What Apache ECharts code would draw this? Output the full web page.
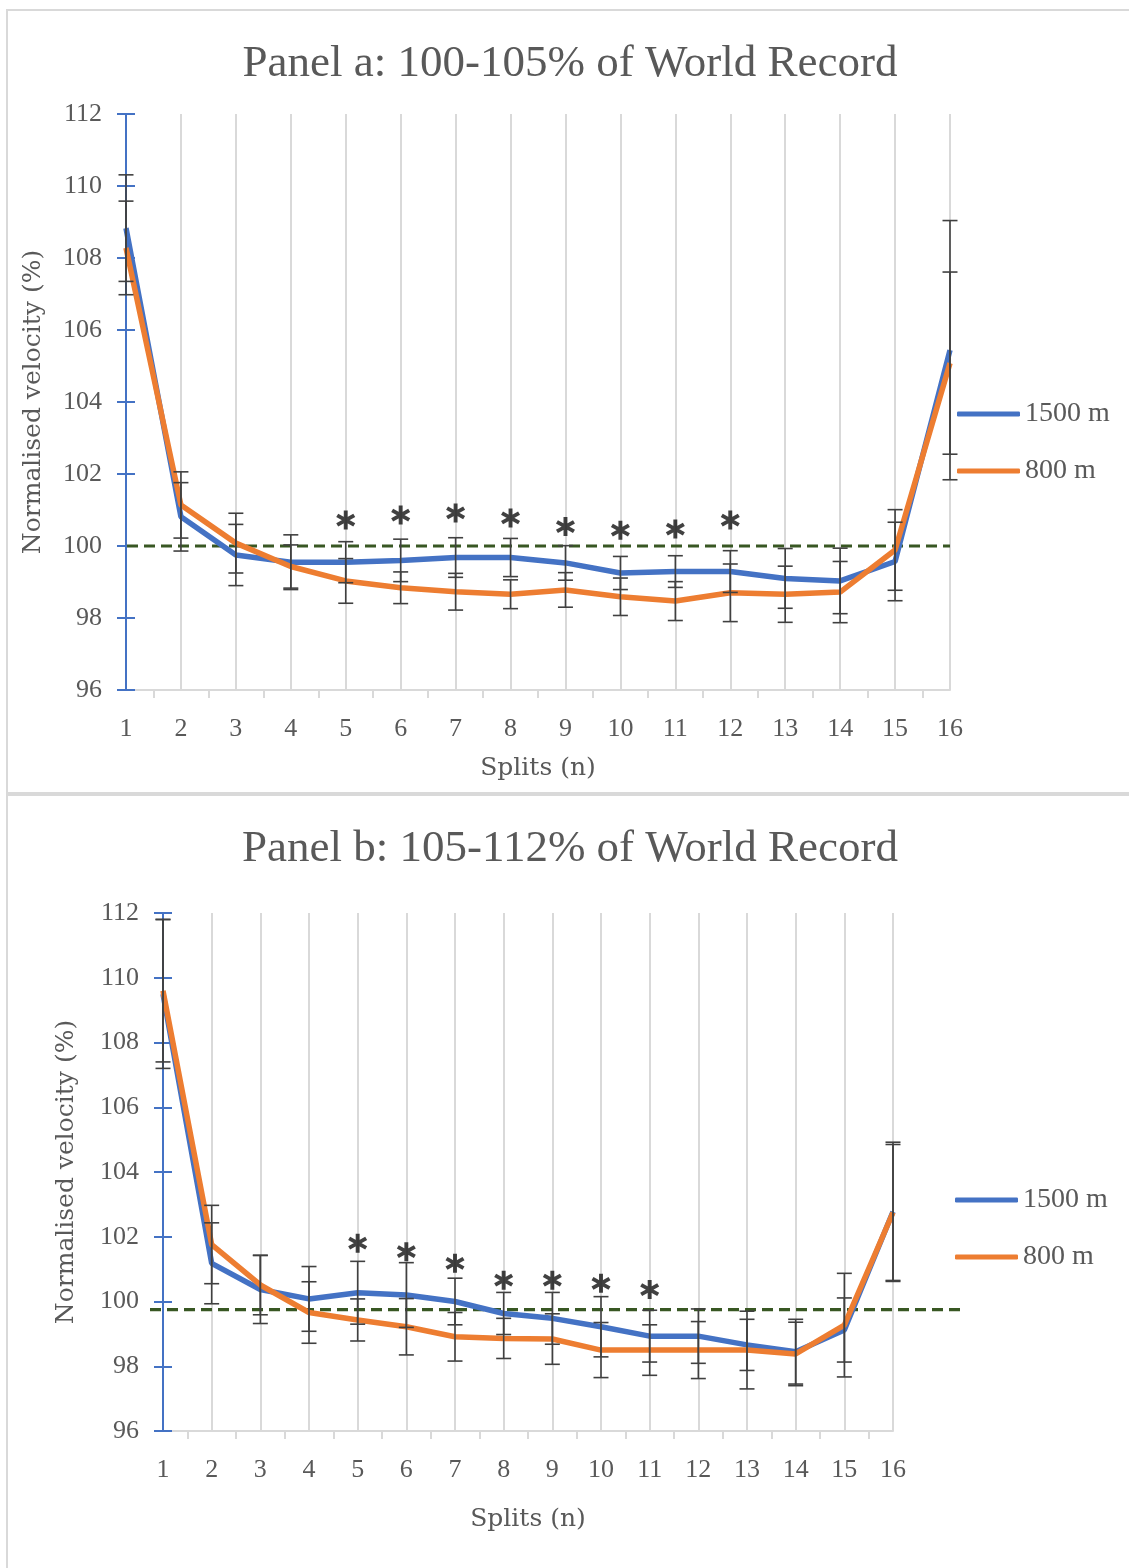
<!DOCTYPE html>
<html>
<head>
<meta charset="utf-8">
<script src="https://cdn.jsdelivr.net/npm/echarts@6/dist/echarts.min.js"></script>
<style>
html,body{margin:0;padding:0;background:#fff;}
#chart{width:1129px;height:1568px;}
</style>
</head>
<body>
<div id="chart"></div>
<script>
// ---------- DATA ----------
const splits = [1,2,3,4,5,6,7,8,9,10,11,12,13,14,15,16];
const yTicks = [96,98,100,102,104,106,108,110,112];

// Panel a: 100-105% of World Record
const a1500   = [108.83,100.81,99.75,99.55,99.55,99.60,99.68,99.68,99.53,99.25,99.29,99.29,99.10,99.03,99.57,105.44];
const a800    = [108.28,101.14,100.08,99.43,99.03,98.84,98.73,98.66,98.78,98.59,98.47,98.70,98.66,98.72,99.89,105.08];
const a1500sd = [1.48,0.95,0.85,0.76,0.57,0.59,0.55,0.53,0.48,0.46,0.44,0.58,0.83,0.91,1.09,3.60];
const a800sd  = [1.30,0.92,0.83,0.60,0.62,0.44,0.51,0.40,0.48,0.52,0.54,0.80,0.78,0.85,1.12,2.53];
const aStarSplits = [5,6,7,8,9,10,11,12];
const aStarY      = [100.72,100.86,100.92,100.78,100.54,100.44,100.47,100.72];
const aRef = 100;

// Panel b: 105-112% of World Record
const b1500   = [109.50,101.18,100.37,100.08,100.27,100.20,100.00,99.63,99.48,99.22,98.93,98.93,98.66,98.45,99.12,102.77];
const b800    = [109.60,101.76,100.51,99.66,99.43,99.22,98.91,98.86,98.84,98.50,98.50,98.50,98.50,98.38,99.27,102.75];
const b1500sd = [2.30,1.25,1.05,1.00,0.97,1.00,0.72,0.65,0.80,0.93,0.80,0.84,0.79,1.00,0.99,2.15];
const b800sd  = [2.20,1.21,0.92,0.95,0.65,0.87,0.75,0.62,0.78,0.85,0.78,0.88,1.20,0.98,1.60,2.10];
const bStarSplits = [5,6,7,8,9,10,11];
const bStarY      = [101.80,101.54,101.18,100.66,100.66,100.56,100.37];
const bRef = 99.75;

const titles = ['Panel a: 100-105% of World Record', 'Panel b: 105-112% of World Record'];
const seriesNames = ['1500 m', '800 m'];
const xName = 'Splits (n)';
const yName = 'Normalised velocity (%)';

// ---------- STYLE ----------
const FONT = 'Liberation Serif';
const FONT2 = 'DejaVu Serif';
const TXT = '#595959';
const BLUE = '#4472C4', ORANGE = '#ED7D31', GRID = '#d9d9d9', ERR = '#404040', REF = '#385723';
const STAR = 'path://M40 0L60 0L60 100L40 100Z M88.3 16.34L98.3 33.66L11.7 83.66L1.7 66.34Z M1.7 33.66L11.7 16.34L98.3 66.34L88.3 83.66Z';

const chart = echarts.init(document.getElementById('chart'), null, {renderer:'canvas'});

const panels = [
  {g:{left:126, top:114, width:824, height:576}, ref:{left:127, width:823}, s1500:a1500, s800:a800, sd1500:a1500sd, sd800:a800sd, starX:aStarSplits, starY:aStarY, refV:aRef, yNameGap:80, xNameGap:66, legendTop:395, legendLeft:952},
  {g:{left:163, top:913, width:730, height:518}, ref:{left:150, width:810}, s1500:b1500, s800:b800, sd1500:b1500sd, sd800:b800sd, starX:bStarSplits, starY:bStarY, refV:bRef, yNameGap:84, xNameGap:76, legendTop:1181, legendLeft:950}
];

const grid = [], xAxis = [], yAxis = [], series = [], legend = [];

function errRender(params, api){
  const x = api.value(0), m = api.value(1), s = api.value(2);
  const t = api.coord([x, m + s]), b = api.coord([x, m - s]);
  const hw = 7.5;
  const st = {stroke: ERR, lineWidth: 1.6};
  return {type:'group', children:[
    {type:'line', shape:{x1:t[0], y1:t[1], x2:b[0], y2:b[1]}, style:st},
    {type:'line', shape:{x1:t[0]-hw, y1:t[1], x2:t[0]+hw, y2:t[1]}, style:st},
    {type:'line', shape:{x1:b[0]-hw, y1:b[1], x2:b[0]+hw, y2:b[1]}, style:st}
  ]};
}

panels.forEach((p, i) => {
  const gi = grid.length;
  grid.push(Object.assign({containLabel:false}, p.g));
  // reference-line grid (same vertical extent, own horizontal extent)
  grid.push({left:p.ref.left, width:p.ref.width, top:p.g.top, height:p.g.height});
  const xi = xAxis.length;
  xAxis.push({
    type:'value', gridIndex:gi, min:1, max:16, interval:1,
    axisLine:{show:true, lineStyle:{color:GRID, width:2}},
    axisTick:{show:false},
    minorTick:{show:true, splitNumber:2, length:8, lineStyle:{color:GRID, width:2}},
    splitLine:{show:true, lineStyle:{color:GRID, width:2}},
    axisLabel:{color:TXT, fontFamily:FONT, fontSize:26, margin:26},
    name:xName, nameLocation:'middle', nameGap:p.xNameGap,
    nameTextStyle:{color:TXT, fontFamily:FONT2, fontSize:25}
  });
  xAxis.push({type:'value', gridIndex:gi+1, min:0, max:1, show:false});
  const yi = yAxis.length;
  yAxis.push({
    type:'value', gridIndex:gi, position:'left', min:96, max:112, interval:2,
    axisLine:{show:true, lineStyle:{color:BLUE, width:2}},
    axisTick:{show:true, length:9, lineStyle:{color:BLUE, width:2}},
    splitLine:{show:false},
    axisLabel:{color:TXT, fontFamily:FONT, fontSize:26, margin:24,
      formatter: v => (yTicks.indexOf(v) >= 0 ? String(v) : '')},
    name:yName, nameLocation:'middle', nameGap:p.yNameGap,
    nameTextStyle:{color:TXT, fontFamily:FONT2, fontSize:25}
  });
  // inside ticks so the ticks cross the axis
  yAxis.push({
    type:'value', gridIndex:gi, position:'left', min:96, max:112, interval:2,
    axisLine:{show:false}, axisLabel:{show:false}, splitLine:{show:false},
    axisTick:{show:true, inside:true, length:9, lineStyle:{color:BLUE, width:2}}
  });
  yAxis.push({type:'value', gridIndex:gi+1, min:96, max:112, show:false});

  // reference dashed line
  series.push({
    type:'line', xAxisIndex:xi+1, yAxisIndex:yi+2, data:[[0,p.refV],[1,p.refV]],
    showSymbol:false, silent:true, z:3,
    lineStyle:{color:REF, width:3.2, type:[11,6]}
  });
  series.push({
    name:seriesNames[0], type:'line', xAxisIndex:xi, yAxisIndex:yi,
    data: splits.map((s,k)=>[s, p.s1500[k]]), showSymbol:false, z:4,
    lineStyle:{color:BLUE, width:5.5}, itemStyle:{color:BLUE}
  });
  series.push({
    name:seriesNames[1], type:'line', xAxisIndex:xi, yAxisIndex:yi,
    data: splits.map((s,k)=>[s, p.s800[k]]), showSymbol:false, z:5,
    lineStyle:{color:ORANGE, width:5.5}, itemStyle:{color:ORANGE}
  });
  series.push({
    type:'custom', xAxisIndex:xi, yAxisIndex:yi, renderItem:errRender, z:6, silent:true,
    data: splits.map((s,k)=>[s, p.s1500[k], p.sd1500[k]])
  });
  series.push({
    type:'custom', xAxisIndex:xi, yAxisIndex:yi, renderItem:errRender, z:6, silent:true,
    data: splits.map((s,k)=>[s, p.s800[k], p.sd800[k]])
  });
  series.push({
    type:'scatter', xAxisIndex:xi, yAxisIndex:yi, symbol:STAR, symbolSize:19, z:7, silent:true,
    itemStyle:{color:'#111'},
    data: p.starX.map((s,k)=>[s, p.starY[k]])
  });

  legend.push({
    orient:'vertical', left:p.legendLeft, top:p.legendTop, itemWidth:63, itemHeight:5, itemGap:29,
    icon:'roundRect', selectedMode:false,
    textStyle:{color:TXT, fontFamily:FONT, fontSize:28},
    data:seriesNames
  });
});

const option = {
  animation:false,
  backgroundColor:'#fff',
  grid, xAxis, yAxis, series, legend,
  graphic:[
    {type:'rect', shape:{x:7, y:10, width:1140, height:783}, style:{fill:'none', stroke:GRID, lineWidth:2}, z:-1},
    {type:'rect', shape:{x:7, y:795, width:1140, height:790}, style:{fill:'none', stroke:GRID, lineWidth:2}, z:-1},
    {type:'text', x:570, y:64, style:{text:titles[0], fill:TXT, font:'45px "Liberation Serif"', textAlign:'center', textVerticalAlign:'middle'}},
    {type:'text', x:570, y:849, style:{text:titles[1], fill:TXT, font:'45px "Liberation Serif"', textAlign:'center', textVerticalAlign:'middle'}}
  ]
};
chart.setOption(option);
</script>
</body>
</html>
